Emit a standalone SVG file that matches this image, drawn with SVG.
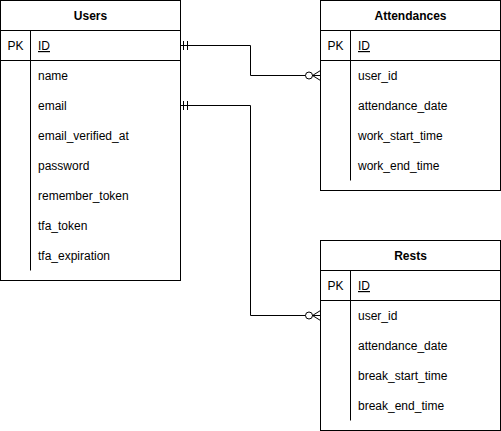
<svg xmlns="http://www.w3.org/2000/svg" width="501" height="431" viewBox="0 0 501 431">
<style>
.box{fill:#fff;stroke:#000;stroke-width:1}
.ln{stroke:#000;stroke-width:1;fill:none}
.t{font-family:"Liberation Sans",Arial,sans-serif;font-size:12px;fill:#000}
.h{font-weight:bold;text-anchor:middle}
.pk{text-anchor:middle}
.u{text-decoration:underline}
</style>
<rect width="501" height="431" fill="#fff"/>
<g id="connectors">
<path class="ln" d="M180.5,45.5 H250.5 V75.5 H320.5"/>
<path class="ln" d="M183.5,41 V50 M187.5,41 V50"/>
<circle cx="309" cy="75.5" r="3.5" fill="#fff" stroke="#000"/>
<path class="ln" d="M312.5,75.5 L320.5,70.5 M312.5,75.5 L320.5,80.5"/>
<path class="ln" d="M180.5,105.5 H250.5 V315.5 H320.5"/>
<path class="ln" d="M183.5,101 V110 M187.5,101 V110"/>
<circle cx="309" cy="315.5" r="3.5" fill="#fff" stroke="#000"/>
<path class="ln" d="M312.5,315.5 L320.5,310.5 M312.5,315.5 L320.5,320.5"/>
</g>
<g id="users">
<rect class="box" x="0.5" y="0.5" width="180" height="280"/>
<path class="ln" d="M0.5,30.5 H180.5 M0.5,60.5 H180.5 M30.5,30.5 V270.5"/>
<text class="t h" x="90.5" y="20">Users</text>
<text class="t pk" x="15.5" y="50">PK</text>
<text class="t u" x="38" y="50">ID</text>
<text class="t" x="38" y="80">name</text>
<text class="t" x="38" y="110">email</text>
<text class="t" x="38" y="140">email_verified_at</text>
<text class="t" x="38" y="170">password</text>
<text class="t" x="38" y="200">remember_token</text>
<text class="t" x="38" y="230">tfa_token</text>
<text class="t" x="38" y="260">tfa_expiration</text>
</g>
<g id="attendances">
<rect class="box" x="320.5" y="0.5" width="180" height="190"/>
<path class="ln" d="M320.5,30.5 H500.5 M320.5,60.5 H500.5 M350.5,30.5 V180.5"/>
<text class="t h" x="410.5" y="20">Attendances</text>
<text class="t pk" x="335.5" y="50">PK</text>
<text class="t u" x="358" y="50">ID</text>
<text class="t" x="358" y="80">user_id</text>
<text class="t" x="358" y="110">attendance_date</text>
<text class="t" x="358" y="140">work_start_time</text>
<text class="t" x="358" y="170">work_end_time</text>
</g>
<g id="rests">
<rect class="box" x="320.5" y="240.5" width="180" height="190"/>
<path class="ln" d="M320.5,270.5 H500.5 M320.5,300.5 H500.5 M350.5,270.5 V420.5"/>
<text class="t h" x="410.5" y="260">Rests</text>
<text class="t pk" x="335.5" y="290">PK</text>
<text class="t u" x="358" y="290">ID</text>
<text class="t" x="358" y="320">user_id</text>
<text class="t" x="358" y="350">attendance_date</text>
<text class="t" x="358" y="380">break_start_time</text>
<text class="t" x="358" y="410">break_end_time</text>
</g>
</svg>
